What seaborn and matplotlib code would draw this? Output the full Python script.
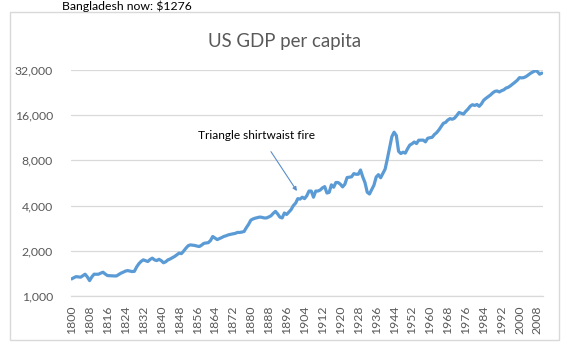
import matplotlib
matplotlib.use("Agg")
import matplotlib.pyplot as plt
import seaborn as sns
import pandas as pd
from matplotlib.ticker import FixedLocator, FuncFormatter, NullLocator
from matplotlib.patches import Rectangle

# US GDP per capita (1990 international dollars), annual, 1800-2010
years = list(range(1800, 2011))
gdp_per_capita = [
    # 1800-1849
    1300, 1325, 1346, 1340, 1334, 1365, 1397, 1340, 1266, 1340,
    1397, 1395, 1397, 1420, 1440, 1400, 1368, 1365, 1362, 1360,
    1360, 1390, 1419, 1440, 1465, 1476, 1465, 1455, 1460, 1560,
    1640, 1700, 1741, 1720, 1697, 1750, 1787, 1740, 1722, 1755,
    1720, 1665, 1690, 1740, 1765, 1800, 1835, 1880, 1930, 1915,
    # 1850-1899
    1990, 2080, 2160, 2190, 2180, 2170, 2150, 2135, 2180, 2240,
    2255, 2265, 2340, 2490, 2430, 2375, 2410, 2450, 2494, 2520,
    2555, 2575, 2595, 2610, 2650, 2650, 2665, 2690, 2850, 3000,
    3200, 3260, 3300, 3330, 3355, 3340, 3310, 3310, 3360, 3420,
    3550, 3660, 3520, 3350, 3310, 3570, 3490, 3620, 3760, 4000,
    # 1900-1949
    4150, 4450, 4420, 4550, 4450, 4650, 5000, 5000, 4550, 5000,
    5000, 5080, 5250, 5350, 4850, 4900, 5500, 5300, 5700, 5700,
    5550, 5330, 5550, 6150, 6180, 6220, 6530, 6470, 6470, 6900,
    6210, 5690, 4910, 4780, 5110, 5470, 6200, 6430, 6130, 6560,
    7010, 8210, 9740, 11520, 12330, 11710, 9200, 8890, 9070, 8940,
    # 1950-1999
    9560, 10120, 10320, 10610, 10360, 10900, 10910, 10920, 10630, 11230,
    11330, 11400, 11900, 12240, 12770, 13420, 14130, 14330, 14860, 15180,
    15030, 15300, 15940, 16690, 16490, 16280, 16980, 17570, 18370, 18790,
    18580, 18860, 18330, 19040, 20120, 20720, 21240, 21790, 22500, 23060,
    23200, 22850, 23300, 23620, 24270, 24560, 25140, 25830, 26550, 27330,
    # 2000-2010
    28470, 28350, 28500, 28990, 29750, 30480, 31050, 31650, 31250, 30000,
    30500,
]

y_ticks = [1000, 2000, 4000, 8000, 16000, 32000]
x_ticks = list(range(1800, 2009, 8))

chart_title = "US GDP per capita"
note_text = "Bangladesh now: $1276"
event_label = "Triangle shirtwaist fire"

df = pd.DataFrame({"year": years, "gdp": gdp_per_capita})

sns.set_theme(style="white")
plt.rcParams["font.family"] = ["Lato", "DejaVu Sans"]

W, H = 564, 346
fig = plt.figure(figsize=(W / 100, H / 100), dpi=100)
fig.patch.set_facecolor("white")

# chart-area frame
fig.patches.append(Rectangle((10 / W, 1 - 340 / H), 549 / W, 328 / H,
                             transform=fig.transFigure, fill=False,
                             edgecolor="#d9d9d9", lw=1.0))

ax = fig.add_axes([71 / W, 1 - 296 / H, 472 / W, 226 / H])
sns.lineplot(data=df, x="year", y="gdp", ax=ax, color="#5b9bd5",
             lw=2.3, solid_capstyle="round", solid_joinstyle="round")

ax.set_yscale("log", base=2)
ax.set_ylim(1000, 32000)
ax.set_xlim(1799.7, 2010.5)
ax.yaxis.set_major_locator(FixedLocator(y_ticks))
ax.yaxis.set_minor_locator(NullLocator())
ax.yaxis.set_major_formatter(FuncFormatter(lambda v, p: f"{int(round(v)):,}"))
ax.xaxis.set_major_locator(FixedLocator(x_ticks))
ax.set_xticklabels([str(t) for t in x_ticks], rotation=90)

ax.grid(axis="y", color="#d9d9d9", lw=0.9)
ax.grid(axis="x", visible=False)
for side in ("top", "right", "left"):
    ax.spines[side].set_visible(False)
ax.spines["bottom"].set_color("#d9d9d9")
ax.spines["bottom"].set_linewidth(0.9)
ax.tick_params(axis="both", length=0, colors="#595959", labelsize=8.8)
ax.tick_params(axis="y", pad=13)
ax.tick_params(axis="x", pad=7)
ax.set_xlabel("")
ax.set_ylabel("")

fig.text(284.5 / W, 1 - 42 / H, chart_title, ha="center", va="center",
         fontsize=13.4, color="#595959")
fig.text(62 / W, 1 - 6 / H, note_text, ha="left", va="center",
         fontsize=8.8, color="black")

ax.text(1882.5, 11700, event_label, ha="center", va="center",
        fontsize=8.6, color="black")
ax.annotate("", xy=(1900.6, 5000), xytext=(1889.0, 9150),
            arrowprops=dict(arrowstyle="-|>", color="#5b8ec9", lw=0.8,
                            mutation_scale=6, shrinkA=0, shrinkB=0))

fig.savefig("out.png", dpi=100)
